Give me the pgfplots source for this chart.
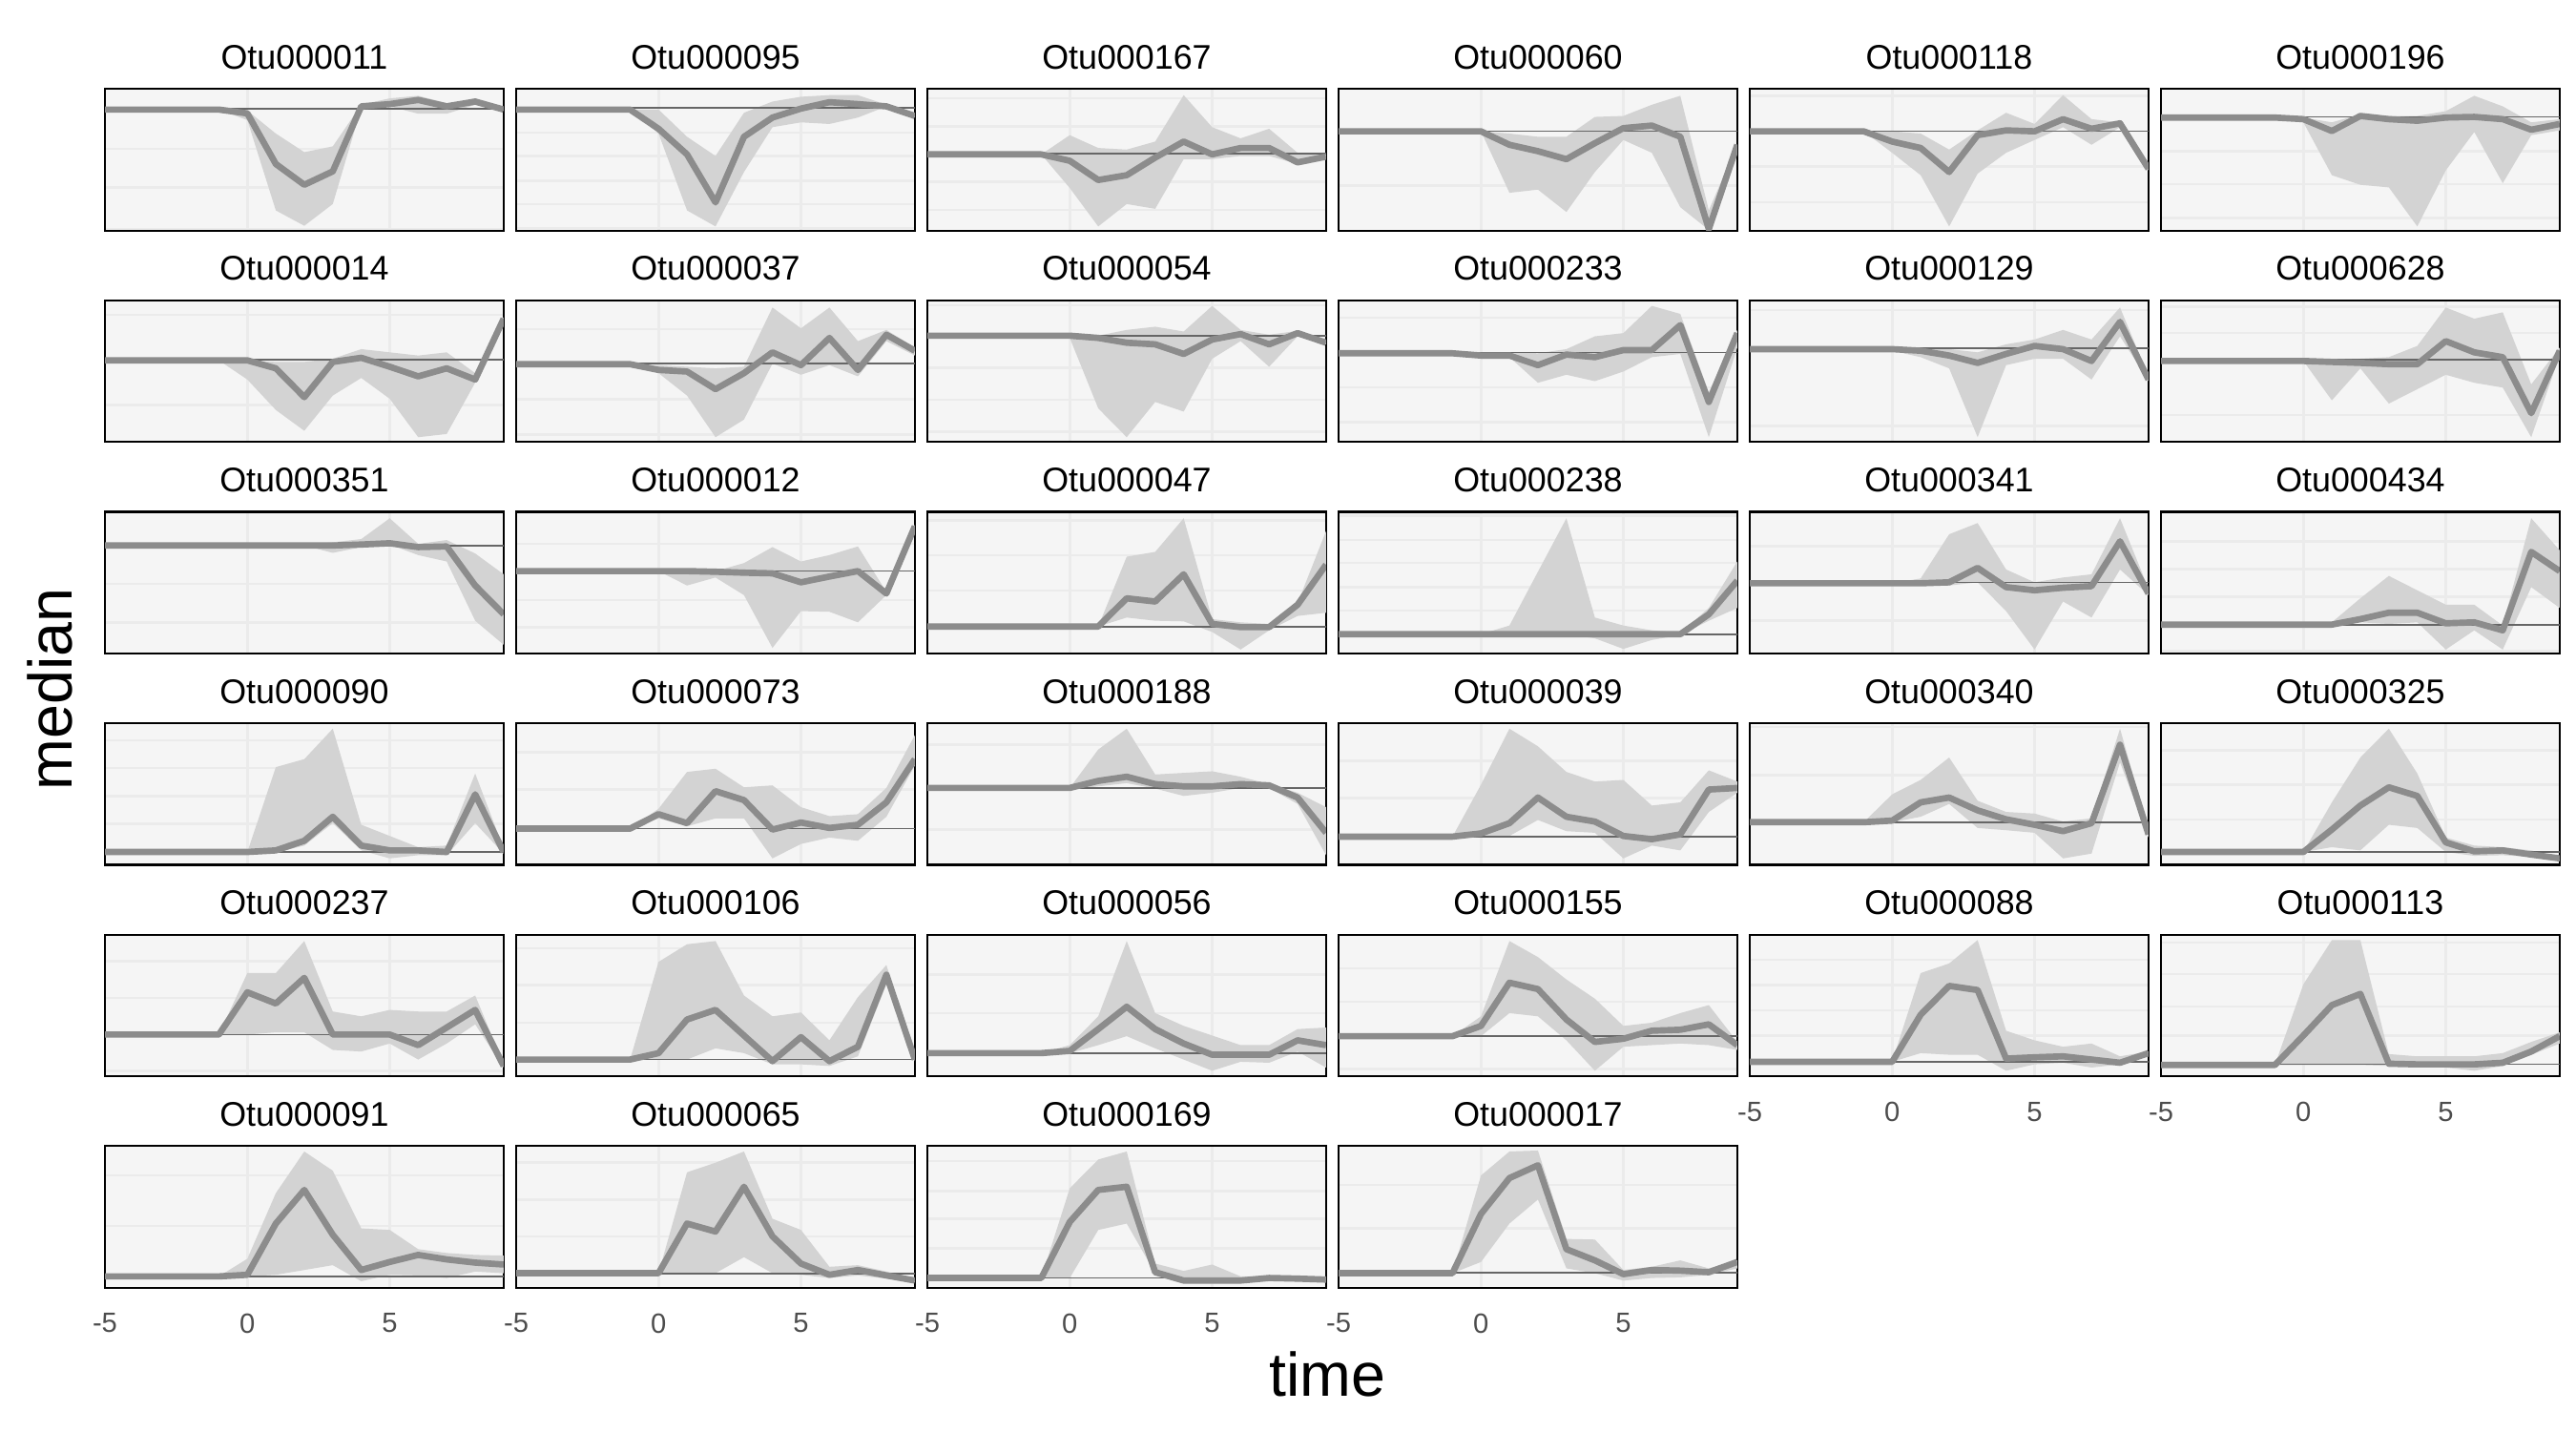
\documentclass[border=0pt]{standalone}
\usepackage{fontspec}
\setmainfont{Liberation Sans}
\usepackage{pgfplots}
\pgfplotsset{compat=1.18}
\usepackage{pgfplotstable}
\usepgfplotslibrary{fillbetween}
\definecolor{bg}{HTML}{F5F5F5}
\definecolor{gridc}{HTML}{EBEBEB}
\definecolor{ribbon}{HTML}{D3D3D3}
\definecolor{medc}{HTML}{8C8C8C}
\definecolor{hlc}{HTML}{666666}
\definecolor{tickc}{HTML}{4D4D4D}

\pgfplotsset{panel/.style={
  scale only axis, width=100.3pt, height=35.6pt, anchor=north west,
  xmin=-5, xmax=9, ymin=0, ymax=442,
  xtick={-5,0,5}, xticklabels={}, yticklabels={},
  major tick length=0pt, tick style={draw=none},
  xmajorgrids, ymajorgrids,
  grid style={draw=gridc, line width=0.6pt},
  axis background/.style={fill=bg},
  axis line style={line width=0.5pt, black},
  title style={font=\fontsize{8.6}{10}\selectfont, anchor=center, at={(0.5,1)}, yshift=2pt, inner sep=0pt},
  xticklabel style={font=\fontsize{7}{8}\selectfont, text=tickc, yshift=-3pt},
}}
\newcommand{\panel}[8]{%
\begin{axis}[panel, at={(#1pt,#2pt)}, title={#3}, ytick={#6}, #8]
\addplot[name path=u, draw=none, forget plot] table[x=t,y=u]{#4};
\addplot[name path=l, draw=none, forget plot] table[x=t,y=l]{#4};
\addplot[fill=ribbon, draw=none] fill between[of=u and l];
\addplot[hlc, line width=0.4pt] coordinates {(-5,#5) (9,#5)};
\addplot[medc, line width=1.6pt, line join=round] table[x=t,y=m]{#4};
\end{axis}}

% columns: t = time, m = median, u = upper, l = lower
\pgfplotstableread{
t m u l
-5 378 378 378
-4 378 378 378
-3 378 378 378
-2 378 378 378
-1 378 378 378
0 366 375 345
1 208 303 63
2 143 245 15
3 185 263 83
4 388 393 383
5 395 413 388
6 408 421 365
7 388 398 365
8 403 408 393
9 378 380 375
}\dA
\pgfplotstableread{
t m u l
-5 378 378 378
-4 378 378 378
-3 378 378 378
-2 378 378 378
-1 378 378 378
0 318 378 303
1 238 293 63
2 88 233 13
3 293 368 183
4 353 403 323
5 381 418 338
6 401 423 333
7 395 423 353
8 388 393 388
9 358 363 353
}\dB
\pgfplotstableread{
t m u l
-5 238 238 238
-4 238 238 238
-3 238 238 238
-2 238 238 238
-1 238 238 238
0 218 298 133
1 158 258 13
2 173 253 83
3 228 278 68
4 278 423 223
5 238 323 223
6 258 288 233
7 258 318 233
8 213 243 208
9 231 238 223
}\dC
\pgfplotstableread{
t m u l
-5 310 310 310
-4 310 310 310
-3 310 310 310
-2 310 310 310
-1 310 310 310
0 310 310 310
1 268 303 118
2 248 293 128
3 223 293 58
4 273 355 183
5 320 358 283
6 328 393 243
7 293 421 73
8 5 63 2
9 268 270 263
}\dD
\pgfplotstableread{
t m u l
-5 310 310 310
-4 310 310 310
-3 310 310 310
-2 310 310 310
-1 310 310 310
0 278 310 243
1 258 303 173
2 183 253 13
3 298 313 178
4 313 368 243
5 310 333 283
6 348 423 323
7 318 348 268
8 335 338 323
9 193 198 188
}\dE
\pgfplotstableread{
t m u l
-5 353 353 353
-4 353 353 353
-3 353 353 353
-2 353 353 353
-1 353 353 353
0 348 353 338
1 311 338 173
2 358 363 143
3 348 358 135
4 343 358 13
5 353 373 188
6 355 421 308
7 348 388 148
8 315 338 298
9 333 348 313
}\dF
% row 2
\pgfplotstableread{
t m u l
-5 255 255 255
-4 255 255 255
-3 255 255 255
-2 255 255 255
-1 255 255 255
0 255 255 195
1 230 250 100
2 140 250 35
3 250 260 145
4 263 290 200
5 235 280 135
6 205 270 15
7 230 280 25
8 195 215 185
9 385 390 375
}\dG
\pgfplotstableread{
t m u l
-5 243 243 243
-4 243 243 243
-3 243 243 243
-2 243 243 243
-1 243 243 243
0 225 240 215
1 220 235 145
2 165 230 15
3 215 235 70
4 280 420 245
5 240 355 210
6 325 420 240
7 225 315 205
8 335 350 315
9 285 295 270
}\dH
\pgfplotstableread{
t m u l
-5 332 332 332
-4 332 332 332
-3 332 332 332
-2 332 332 332
-1 332 332 332
0 332 332 325
1 325 332 105
2 310 350 15
3 305 360 125
4 275 345 95
5 320 425 260
6 337 350 315
7 305 335 235
8 340 347 330
9 310 315 305
}\dI
\pgfplotstableread{
t m u l
-5 277 277 277
-4 277 277 277
-3 277 277 277
-2 277 277 277
-1 277 277 277
0 270 270 270
1 270 280 265
2 240 277 185
3 273 290 210
4 265 330 190
5 287 340 220
6 287 425 265
7 365 400 275
8 125 155 15
9 340 350 295
}\dJ
\pgfplotstableread{
t m u l
-5 290 290 290
-4 290 290 290
-3 290 290 290
-2 290 290 290
-1 290 290 290
0 290 290 285
1 285 290 265
2 270 290 230
3 247 280 15
4 275 305 240
5 300 320 260
6 290 350 260
7 253 320 195
8 375 420 330
9 195 205 190
}\dK
\pgfplotstableread{
t m u l
-5 253 253 253
-4 253 253 253
-3 253 253 253
-2 253 253 253
-1 253 253 253
0 253 253 253
1 250 255 130
2 247 260 230
3 243 265 120
4 243 300 165
5 315 420 210
6 280 385 185
7 265 405 170
8 90 180 15
9 285 295 270
}\dL
% row 3
\pgfplotstableread{
t m u l
-5 337 337 337
-4 337 337 337
-3 337 337 337
-2 337 337 337
-1 337 337 337
0 337 337 337
1 337 337 337
2 337 337 337
3 337 347 314
4 340 357 332
5 344 422 340
6 332 342 307
7 334 354 287
8 212 312 102
9 122 247 27
}\dM
\pgfplotstableread{
t m u l
-5 257 257 257
-4 257 257 257
-3 257 257 257
-2 257 257 257
-1 257 257 257
0 257 257 257
1 257 257 212
2 255 257 237
3 252 282 182
4 250 332 17
5 222 287 132
6 240 307 130
7 257 334 97
8 187 192 182
9 397 402 392
}\dN
\pgfplotstableread{
t m u l
-5 84 84 84
-4 84 84 84
-3 84 84 84
-2 84 84 84
-1 84 84 84
0 84 84 84
1 84 84 84
2 172 302 112
3 162 317 102
4 247 422 100
5 92 107 67
6 82 97 12
7 82 92 72
8 152 157 117
9 277 382 127
}\dO
\pgfplotstableread{
t m u l
-5 60 60 60
-4 60 60 60
-3 60 60 60
-2 60 60 60
-1 60 60 60
0 60 60 60
1 60 87 60
2 60 255 60
3 60 422 60
4 60 112 47
5 60 87 14
6 60 72 42
7 60 64 57
8 122 142 102
9 227 287 142
}\dP
\pgfplotstableread{
t m u l
-5 219 219 219
-4 219 219 219
-3 219 219 219
-2 219 219 219
-1 219 219 219
0 219 219 219
1 219 234 217
2 222 372 212
3 267 407 222
4 207 262 132
5 197 222 12
6 205 237 162
7 210 247 112
8 350 422 262
9 187 202 182
}\dQ
\pgfplotstableread{
t m u l
-5 90 90 90
-4 90 90 90
-3 90 90 90
-2 90 90 90
-1 90 90 90
0 90 90 90
1 90 97 87
2 107 172 97
3 127 242 92
4 127 197 97
5 94 152 12
6 97 152 72
7 72 87 12
8 317 422 207
9 257 322 142
}\dR
% row 4
\pgfplotstableread{
t m u l
-5 40 40 40
-4 40 40 40
-3 40 40 40
-2 40 40 40
-1 40 40 40
0 40 40 40
1 45 305 38
2 75 330 60
3 150 425 130
4 60 125 45
5 45 90 20
6 45 55 30
7 40 60 30
8 220 285 130
9 40 50 35
}\dS
\pgfplotstableread{
t m u l
-5 113 113 113
-4 113 113 113
-3 113 113 113
-2 113 113 113
-1 113 113 113
0 158 175 145
1 130 290 120
2 230 300 145
3 202 242 145
4 110 248 20
5 132 180 65
6 115 152 85
7 125 158 75
8 195 240 150
9 330 405 310
}\dT
\pgfplotstableread{
t m u l
-5 240 240 240
-4 240 240 240
-3 240 240 240
-2 240 240 240
-1 240 240 240
0 240 240 235
1 262 360 245
2 275 425 255
3 252 282 238
4 245 287 215
5 245 292 225
6 252 275 240
7 248 252 240
8 210 225 190
9 100 180 30
}\dU
\pgfplotstableread{
t m u l
-5 88 88 88
-4 88 88 88
-3 88 88 88
-2 88 88 88
-1 88 88 88
0 98 250 88
1 130 425 90
2 210 370 140
3 150 290 105
4 135 260 100
5 90 265 20
6 80 185 60
7 95 195 45
8 235 295 165
9 240 260 225
}\dV
\pgfplotstableread{
t m u l
-5 133 133 133
-4 133 133 133
-3 133 133 133
-2 133 133 133
-1 133 133 133
0 138 220 133
1 195 265 150
2 210 335 190
3 170 200 115
4 142 165 108
5 125 160 100
6 105 135 20
7 130 145 35
8 375 425 320
9 95 110 85
}\dW
\pgfplotstableread{
t m u l
-5 40 40 40
-4 40 40 40
-3 40 40 40
-2 40 40 40
-1 40 40 40
0 40 40 40
1 110 195 55
2 185 335 45
3 242 425 125
4 215 285 115
5 70 85 40
6 42 60 28
7 45 55 30
8 32 45 25
9 20 25 12
}\dX
% row 5
\pgfplotstableread{
t m u l
-5 130 130 130
-4 130 130 130
-3 130 130 130
-2 130 130 130
-1 130 130 130
0 262 322 130
1 227 322 137
2 307 422 137
3 130 202 82
4 130 187 77
5 130 207 102
6 97 202 52
7 152 202 102
8 207 252 162
9 32 37 27
}\dY
\pgfplotstableread{
t m u l
-5 52 52 52
-4 52 52 52
-3 52 52 52
-2 52 52 52
-1 52 52 52
0 72 357 52
1 177 412 52
2 207 422 87
3 127 252 72
4 47 187 37
5 122 199 37
6 47 112 32
7 92 247 62
8 317 347 287
9 52 62 47
}\dZ
\pgfplotstableread{
t m u l
-5 72 72 72
-4 72 72 72
-3 72 72 72
-2 72 72 72
-1 72 72 72
0 79 97 72
1 147 187 97
2 217 422 125
3 147 197 87
4 102 157 52
5 67 127 17
6 67 97 45
7 67 97 42
8 112 147 77
9 97 152 27
}\dAA
\pgfplotstableread{
t m u l
-5 125 125 125
-4 125 125 125
-3 125 125 125
-2 125 125 125
-1 125 125 125
0 157 187 125
1 292 422 197
2 272 372 187
3 177 302 112
4 107 242 17
5 117 157 92
6 142 167 97
7 145 197 102
8 162 222 97
9 97 107 82
}\dAB
\pgfplotstableread{
t m u l
-5 45 45 45
-4 45 45 45
-3 45 45 45
-2 45 45 45
-1 45 45 45
0 45 45 45
1 192 322 72
2 282 352 67
3 269 425 67
4 55 142 17
5 59 112 37
6 62 92 42
7 52 102 27
8 42 62 37
9 72 77 62
}\dAC
\pgfplotstableread{
t m u l
-5 35 35 35
-4 35 35 35
-3 35 35 35
-2 35 35 35
-1 35 35 35
0 127 287 35
1 222 425 35
2 257 425 35
3 39 69 32
4 37 62 32
5 37 62 27
6 37 62 17
7 42 72 32
8 77 107 67
9 125 137 102
}\dAD
% row 6
\pgfplotstableread{
t m u l
-5 35 35 35
-4 35 35 35
-3 35 35 35
-2 35 35 35
-1 35 35 35
0 40 90 35
1 200 295 40
2 305 425 55
3 165 365 70
4 55 185 20
5 80 180 40
6 102 120 38
7 88 108 30
8 78 102 50
9 72 100 45
}\dAE
\pgfplotstableread{
t m u l
-5 45 45 45
-4 45 45 45
-3 45 45 45
-2 45 45 45
-1 45 45 45
0 45 45 42
1 200 360 42
2 175 390 45
3 315 425 95
4 160 215 45
5 75 180 40
6 40 65 30
7 55 70 38
8 38 50 28
9 22 30 17
}\dAF
\pgfplotstableread{
t m u l
-5 30 30 30
-4 30 30 30
-3 30 30 30
-2 30 30 30
-1 30 30 30
0 205 310 30
1 305 400 180
2 315 425 200
3 48 75 45
4 22 52 20
5 22 72 18
6 22 35 18
7 30 35 25
8 28 35 22
9 25 30 20
}\dAG
\pgfplotstableread{
t m u l
-5 45 45 45
-4 45 45 45
-3 45 45 45
-2 45 45 45
-1 45 45 45
0 230 350 80
1 342 425 200
2 382 428 275
3 120 152 60
4 85 150 45
5 42 55 22
6 55 65 30
7 53 85 32
8 48 60 40
9 80 85 60
}\dAH

\begin{document}
\begin{tikzpicture}
% row 1
\panel{26.4}{-22.4}{Otu000011}{\dA}{381}{5,134,256}{}{}
\panel{129.84}{-22.4}{Otu000095}{\dB}{383}{8,83,156,233,306}{}{}
\panel{233.28}{-22.4}{Otu000167}{\dC}{241}{65,153,326,413}{}{}
\panel{336.72}{-22.4}{Otu000060}{\dD}{310}{140}{}{}
\panel{440.16}{-22.4}{Otu000118}{\dE}{310}{88,200,420}{}{}
\panel{543.6}{-22.4}{Otu000196}{\dF}{355}{40,145,248}{}{}
% row 2
\panel{26.4}{-75.58}{Otu000014}{\dG}{257}{115,397}{}{}
\panel{129.84}{-75.58}{Otu000037}{\dH}{245}{23,133,353}{}{}
\panel{233.28}{-75.58}{Otu000054}{\dI}{332}{32,132,232,427}{}{}
\panel{336.72}{-75.58}{Otu000233}{\dJ}{279}{62,170,388}{}{}
\panel{440.16}{-75.58}{Otu000129}{\dK}{292}{50,412}{}{}
\panel{543.6}{-75.58}{Otu000628}{\dL}{257}{85,340,422}{}{}
% row 3
\panel{26.4}{-128.76}{Otu000351}{\dM}{337}{97,217}{}{}
\panel{129.84}{-128.76}{Otu000012}{\dN}{257}{82,167,342}{}{}
\panel{233.28}{-128.76}{Otu000047}{\dO}{84}{197,307,415}{}{}
\panel{336.72}{-128.76}{Otu000238}{\dP}{60}{134,207,282,354,430}{}{}
\panel{440.16}{-128.76}{Otu000341}{\dQ}{222}{102,335}{}{}
\panel{543.6}{-128.76}{Otu000434}{\dR}{90}{7,177,264,350}{}{}
% row 4
\panel{26.4}{-181.94}{Otu000090}{\dS}{40}{128,215,302,388}{}{}
\panel{129.84}{-181.94}{Otu000073}{\dT}{113}{235,352}{}{}
\panel{233.28}{-181.94}{Otu000188}{\dU}{240}{110,375}{}{}
\panel{336.72}{-181.94}{Otu000039}{\dV}{88}{208,325}{}{}
\panel{440.16}{-181.94}{Otu000340}{\dW}{133}{280,430}{}{}
\panel{543.6}{-181.94}{Otu000325}{\dX}{40}{142,250,358}{}{}
% row 5
\panel{26.4}{-235.12}{Otu000237}{\dY}{130}{17,245,359}{}{}
\panel{129.84}{-235.12}{Otu000106}{\dZ}{52}{167,284,399}{}{}
\panel{233.28}{-235.12}{Otu000056}{\dAA}{72}{197,317}{}{}
\panel{336.72}{-235.12}{Otu000155}{\dAB}{125}{22,232,337}{}{}
\panel{440.16}{-235.12}{Otu000088}{\dAC}{45}{127,205,285,364}{}{xticklabels={-5,0,5}}
\panel{543.6}{-235.12}{Otu000113}{\dAD}{37}{127,217,319,417}{}{xticklabels={-5,0,5}}
% row 6
\panel{26.4}{-288.3}{Otu000091}{\dAE}{35}{192,350}{}{xticklabels={-5,0,5}}
\panel{129.84}{-288.3}{Otu000065}{\dAF}{43}{160,275,390}{}{xticklabels={-5,0,5}}
\panel{233.28}{-288.3}{Otu000169}{\dAG}{30}{123,215,302,395}{}{xticklabels={-5,0,5}}
\panel{336.72}{-288.3}{Otu000017}{\dAH}{47}{185,320}{}{xticklabels={-5,0,5}}
% axis titles
\node[font=\fontsize{15.5}{18}\selectfont] at (333.9pt,-345.6pt) {time};
\node[font=\fontsize{15.5}{18}\selectfont, rotate=90] at (12.6pt,-173.3pt) {median};
\path (0,0) rectangle (648pt,-360pt);
\end{tikzpicture}
\end{document}
